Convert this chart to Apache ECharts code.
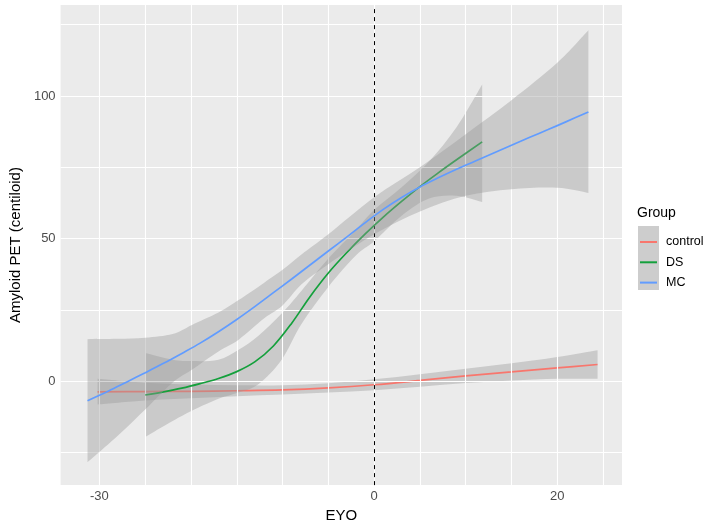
<!DOCTYPE html>
<html><head><meta charset="utf-8">
<script src="https://cdn.jsdelivr.net/npm/echarts@6/dist/echarts.min.js"></script>
<style>html,body{margin:0;padding:0;background:#fff}#c{width:704px;height:528px}</style>
</head><body><div id="c"></div>
<script>
// ---- data ----
const groups = ['control', 'DS', 'MC'];
const groupColors = ['#F8766D', '#14A03C', '#619CFF'];
const xTickLabels = [-30, 0, 20];
const yTickLabels = [0, 50, 100];
const xGrid = [-30, -25, -20, -15, -10, -5, 0, 5, 10, 15, 20, 25];
const yGrid = [-25, 0, 25, 50, 75, 100, 125];
const refLineX = 0;

const controlX = [-30.2, -25, -20, -15, -10, -5, 0, 5, 10, 15, 20, 24.4];
const controlY = [-3.8, -3.7, -3.6, -3.4, -3.1, -2.4, -1.3, 0.2, 1.8, 3.2, 4.6, 5.8];
const controlUpper = [0.8, -0.6, -1.2, -1.5, -1.5, -0.8, 0.6, 2.4, 4.3, 6.2, 8.4, 10.8];
const controlLower = [-8.2, -6.8, -6.0, -5.3, -4.7, -4.0, -3.2, -2.0, -0.7, 0.2, 0.8, 0.8];

const dsX = [-25, -23, -21, -19, -17, -15, -13, -11, -9, -7, -5, -3, -1, 1, 3, 5, 7, 9, 11.8];
const dsY = [-4.9, -3.8, -2.5, -0.9, 0.9, 3.3, 6.8, 12.3, 20.3, 29.6, 37.9, 45.0, 51.5, 57.5, 63.0, 68.2, 73.0, 77.6, 83.9];
const dsBandX = [-25, -22, -19.9, -17, -14.8, -12.6, -10.1, -7.9, -5, -2, 0, 3, 6, 9, 11.8];
const dsUpper = [9.8, 7.5, 7.0, 7.5, 11.0, 16.0, 23.7, 31.8, 43.0, 53.0, 60.0, 68.0, 77.0, 89.0, 104.0];
const dsLower = [-19.6, -14.0, -10.4, -6.2, -4.0, -1.0, 7.5, 20.2, 33.0, 44.0, 49.0, 58.0, 64.0, 65.0, 62.8];

const mcX = [-31.3, -29, -27, -25, -23, -21, -19, -17, -15, -13, -11, -9, -7, -5, -3, -1, 1, 3, 5, 7, 9, 11, 13, 15, 17, 19, 21, 23.4];
const mcY = [-6.9, -3.5, -0.3, 2.9, 6.2, 9.7, 13.3, 17.3, 21.6, 26.2, 31.0, 35.8, 40.7, 45.6, 50.5, 55.5, 60.2, 64.4, 68.1, 71.3, 74.3, 77.1, 79.9, 82.7, 85.5, 88.2, 91.0, 94.4];
const mcBandX = [-31.3, -28, -25, -22, -19.9, -17, -14.8, -12, -10, -7.9, -5, 0, 5, 10, 15, 20, 23.4];
const mcUpper = [14.7, 14.8, 15.2, 16.5, 19.7, 24.0, 28.4, 34.5, 39.0, 44.5, 51.5, 64.5, 75.0, 86.6, 98.5, 111.6, 123.0];
const mcLower = [-28.5, -19.2, -10.0, -0.5, 4.0, 10.4, 14.5, 22.0, 26.5, 34.0, 41.0, 51.5, 59.5, 65.0, 67.3, 67.8, 66.0];

// ---- helpers ----
const zip = (a, b) => a.map((v, i) => [v, b[i]]);
const FONT = "'Liberation Sans', Arial, sans-serif";

// Catmull-Rom bezier segments through pixel points (rendering only)
function curveThrough(p) {
  let d = '';
  const n = p.length;
  for (let i = 0; i < n - 1; i++) {
    const p0 = p[Math.max(i - 1, 0)], p1 = p[i], p2 = p[i + 1], p3 = p[Math.min(i + 2, n - 1)];
    const c1 = [p1[0] + (p2[0] - p0[0]) / 6, p1[1] + (p2[1] - p0[1]) / 6];
    const c2 = [p2[0] - (p3[0] - p1[0]) / 6, p2[1] - (p3[1] - p1[1]) / 6];
    d += ' C' + c1[0] + ',' + c1[1] + ' ' + c2[0] + ',' + c2[1] + ' ' + p2[0] + ',' + p2[1];
  }
  return d;
}
function bandSeries(name, xs, up, lo, z) {
  return {
    type: 'custom', name: name + ' band', z: z, silent: true, clip: true,
    data: [[xs[0], up[0]]],
    renderItem: function (params, api) {
      const top = xs.map((x, i) => api.coord([x, up[i]]));
      const bot = xs.map((x, i) => api.coord([x, lo[i]])).reverse();
      const d = 'M' + top[0][0] + ',' + top[0][1] + curveThrough(top) +
        ' L' + bot[0][0] + ',' + bot[0][1] + curveThrough(bot) + ' Z';
      return { type: 'path', shape: { pathData: d }, style: { fill: 'rgba(153,153,153,0.4)' } };
    }
  };
}
function lineSeries(idx, xs, ys, z) {
  return {
    type: 'line', name: groups[idx], z: z, data: zip(xs, ys), smooth: 0.35,
    showSymbol: false, symbol: 'none', silent: true,
    lineStyle: { color: groupColors[idx], width: 1.7 },
    itemStyle: { color: groupColors[idx] }
  };
}

const chart = echarts.init(document.getElementById('c'), null, { renderer: 'canvas' });
chart.setOption({
  animation: false,
  backgroundColor: '#ffffff',
  textStyle: { fontFamily: FONT },
  grid: { left: 58, right: 82, top: 5, bottom: 38, show: true, backgroundColor: '#EBEBEB', borderWidth: 0, containLabel: false },
  xAxis: {
    type: 'value', min: -34.24, max: 27.07,
    name: 'EYO', nameLocation: 'middle', nameGap: 21,
    nameTextStyle: { fontSize: 15, color: '#000', fontFamily: FONT },
    axisLine: { show: false },
    splitLine: { show: false },
    axisTick: { show: true, customValues: xTickLabels, length: 3, lineStyle: { color: '#333', width: 1 } },
    axisLabel: { customValues: xTickLabels, fontSize: 13, color: '#4D4D4D', margin: 5, fontFamily: FONT }
  },
  yAxis: {
    type: 'value', min: -36.5, max: 131.9,
    name: 'Amyloid PET (centiloid)', nameLocation: 'middle', nameGap: 35,
    nameTextStyle: { fontSize: 15, color: '#000', fontFamily: FONT },
    axisLine: { show: false },
    splitLine: { show: false },
    axisTick: { show: true, customValues: yTickLabels, length: 3, lineStyle: { color: '#333', width: 1 } },
    axisLabel: { customValues: yTickLabels, fontSize: 13, color: '#4D4D4D', margin: 5, fontFamily: FONT }
  },
  legend: {
    data: groups.map(g => ({ name: g, icon: 'rect' })),
    orient: 'vertical', left: 640, top: 235, padding: 0, width: 200,
    itemWidth: 17, itemHeight: 2, itemGap: 6.3,
    selectedMode: false,
    textStyle: { fontSize: 12.5, color: '#000', lineHeight: 14, fontFamily: FONT, overflow: 'none', width: 80, padding: [0, 0, 0, 4] }
  },
  graphic: [
    { type: 'rect', left: 638, top: 226, shape: { width: 21, height: 64 }, style: { fill: '#CDCDCD' }, z: -1, silent: true },
    { type: 'text', left: 637, top: 206, style: { text: 'Group', fontSize: 14, fill: '#000', fontFamily: FONT }, silent: true }
  ],
  series: [
    {
      type: 'line', name: 'grid', data: [], z: 1, silent: true,
      markLine: {
        silent: true, symbol: ['none', 'none'], animation: false,
        label: { show: false },
        lineStyle: { color: '#ffffff', width: 1.1, type: 'solid' },
        data: xGrid.map(v => ({ xAxis: v })).concat(yGrid.map(v => ({ yAxis: v })))
      }
    },
    bandSeries('control', controlX, controlUpper, controlLower, 2),
    lineSeries(0, controlX, controlY, 3),
    bandSeries('DS', dsBandX, dsUpper, dsLower, 4),
    lineSeries(1, dsX, dsY, 5),
    bandSeries('MC', mcBandX, mcUpper, mcLower, 6),
    lineSeries(2, mcX, mcY, 7),
    {
      type: 'line', name: 'ref', data: [], z: 8, silent: true,
      markLine: {
        silent: true, symbol: ['none', 'none'], animation: false,
        label: { show: false },
        lineStyle: { color: '#000000', width: 1, type: [4, 4] },
        data: [{ xAxis: refLineX }]
      }
    }
  ]
});
</script></body></html>
